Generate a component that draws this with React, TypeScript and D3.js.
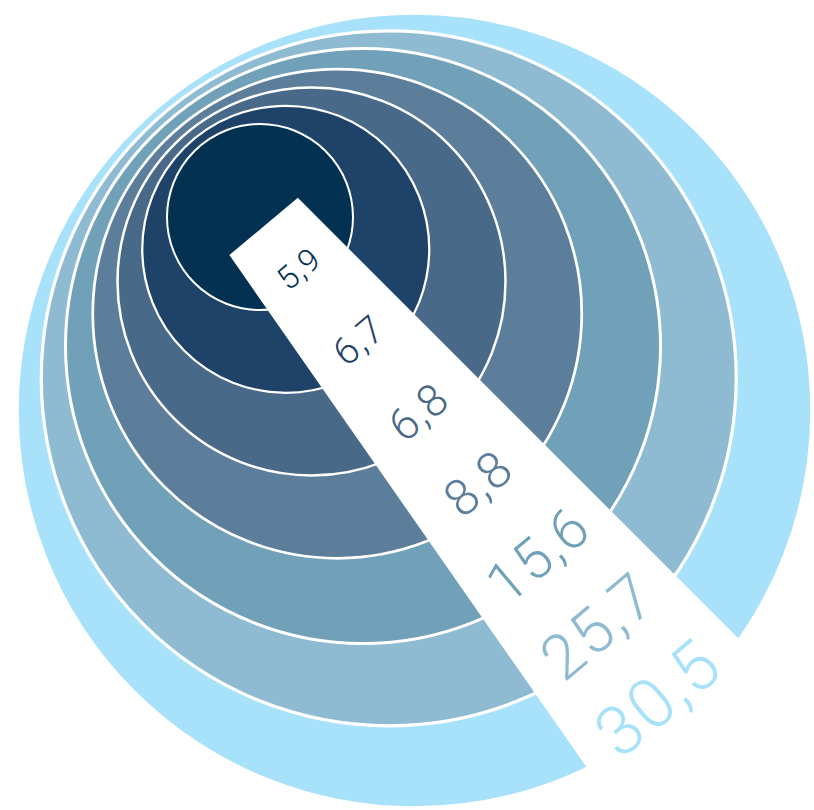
import React from 'react';
import * as d3 from 'd3';

// Data (share values, in %), innermost ring first
const categories = ['1', '2', '3', '4', '5', '6', '7'];
const values = [5.9, 6.7, 6.8, 8.8, 15.6, 25.7, 30.5];
const colors = ['#023152', '#1F4368', '#496988', '#5C7E9B', '#71A1B8', '#8EBAD2', '#A8E1FA'];

const W = 814;
const H = 810;

const locale = d3.formatLocale({ decimal: ',', thousands: '.', grouping: [3], currency: ['', '€'] });
const fmt = locale.format('.1f');

export default function App() {
  const n = values.length - 1;
  const idx = d3.range(values.length);

  // ring geometry by rank
  const rScale = d3.scaleLinear().domain([0, 3, 4, 6]).range([93, 244.5, 297.5, 397.5]);
  const cxScale = d3.scaleLinear().domain([0, n]).range([260, 414.5]);
  const cyScale = d3.scaleLinear().domain([0, n]).range([217, 410.5]);
  const swScale = d3.scaleLinear().domain([0, n]).range([2, 3.5]);

  // label strip (wedge) geometry
  const apex: [number, number] = [-60.7, -160.7];
  const deg = Math.PI / 180;
  const leftA = 55.1 * deg; // screen angles of the two edges
  const rightA = 45 * deg;
  const bisector = (leftA + rightA) / 2;
  const r0 = 507;
  const r1 = 1600;
  const pt = (a: number, r: number): [number, number] => [apex[0] + r * Math.cos(a), apex[1] + r * Math.sin(a)];
  const wedge = d3.line()([pt(rightA, r0), pt(rightA, r1), pt(leftA, r1), pt(leftA, r0)]) + 'Z';

  const distScale = d3.scaleLinear().domain([0, n]).range([559.6, 1118.8]);
  const fontScale = d3.scaleLinear().domain([0, n]).range([32, 69]);
  const rot = bisector / deg - 90;

  return (
    <svg
      width={W}
      height={H}
      viewBox={`0 0 ${W} ${H}`}
      style={{ position: 'absolute', left: 0, top: 0, background: '#fff' }}
    >
      <g>
        {idx
          .slice()
          .reverse()
          .map((i) => (
            <circle
              key={categories[i]}
              cx={cxScale(i)}
              cy={cyScale(i)}
              r={rScale(i)}
              fill={colors[i]}
              stroke="#fff"
              strokeWidth={swScale(i)}
            />
          ))}
      </g>
      <path d={wedge} fill="#fff" />
      <g>
        {idx.map((i) => {
          const d = distScale(i);
          const [x, y] = pt(bisector, d);
          return (
            <text
              key={categories[i]}
              transform={`translate(${x},${y}) rotate(${rot})`}
              textAnchor="middle"
              dy="0.36em"
              fill={colors[i]}
              fontFamily="Roboto, 'Open Sans', 'Liberation Sans', sans-serif"
              fontWeight={300}
              fontSize={fontScale(i)}
              letterSpacing="0.04em"
            >
              {fmt(values[i])}
            </text>
          );
        })}
      </g>
    </svg>
  );
}
